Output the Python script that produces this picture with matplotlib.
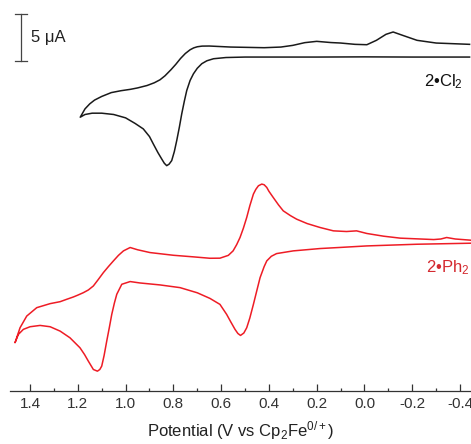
import matplotlib
matplotlib.use("Agg")
import matplotlib.pyplot as plt

plt.rcParams["font.family"] = ["Liberation Sans", "DejaVu Sans"]
plt.rcParams["mathtext.fontset"] = "custom"
plt.rcParams["mathtext.rm"] = "Liberation Sans"
plt.rcParams["mathtext.it"] = "Liberation Sans:italic"

# --- 2.Cl2 : potential (V vs Fc) and current (uA, relative to return baseline)
# scan starts at the right end, runs to 1.19 V and comes back
cl2_E = [-0.44, -0.30, -0.22, -0.16, -0.12, -0.09, -0.05, -0.01, 0.04, 0.10,
         0.14, 0.20, 0.25, 0.30, 0.35, 0.42, 0.50, 0.56, 0.65, 0.68,
         0.70, 0.715, 0.73, 0.75, 0.77, 0.79, 0.81, 0.835, 0.856, 0.88,
         0.91, 0.95, 0.98, 1.02, 1.06, 1.10, 1.13, 1.15, 1.17, 1.19,
         1.17, 1.14, 1.10, 1.05, 1.00, 0.96, 0.926, 0.90, 0.884, 0.865,
         0.849, 0.838, 0.828, 0.818, 0.807, 0.796, 0.786, 0.775, 0.765, 0.754,
         0.744, 0.73, 0.716, 0.70, 0.681, 0.66, 0.632, 0.58, 0.50, 0.20,
         0.00, -0.20, -0.44]
cl2_I = [1.36, 1.50, 1.79, 2.32, 2.68, 2.43, 1.79, 1.32, 1.36, 1.50,
         1.55, 1.68, 1.54, 1.25, 1.07, 1.00, 1.04, 1.07, 1.18, 1.17,
         1.10, 0.98, 0.78, 0.38, -0.15, -0.78, -1.35, -2.00, -2.43, -2.75,
         -3.04, -3.30, -3.45, -3.60, -3.80, -4.21, -4.60, -5.00, -5.54, -6.43,
         -6.14, -6.00, -6.00, -6.14, -6.50, -7.10, -7.68, -8.50, -9.29, -10.20,
         -10.89, -11.35, -11.61, -11.45, -11.07, -10.10, -8.93, -7.50, -6.07, -4.70,
         -3.57, -2.50, -1.79, -1.20, -0.71, -0.40, -0.18, -0.05, 0.00, 0.00,
         0.02, 0.00, 0.00]

# --- 2.Ph2
ph2_E = [-0.446, -0.38, -0.344, -0.32, -0.29, -0.15, -0.08, -0.01, 0.033, 0.075,
         0.13, 0.186, 0.24, 0.284, 0.31, 0.34, 0.36, 0.382, 0.40, 0.409,
         0.42, 0.43, 0.444, 0.455, 0.465, 0.48, 0.493, 0.507, 0.521, 0.535,
         0.55, 0.57, 0.605, 0.647, 0.716, 0.80, 0.898, 0.95, 0.981, 1.009,
         1.03, 1.051, 1.072, 1.093, 1.115, 1.135, 1.156, 1.177, 1.20, 1.219,
         1.247, 1.274, 1.316, 1.372, 1.414, 1.442, 1.463,
         1.449, 1.428, 1.40, 1.358, 1.316, 1.274, 1.233, 1.191, 1.172, 1.156,
         1.135, 1.118, 1.108, 1.10, 1.09, 1.079, 1.068, 1.058, 1.047, 1.037,
         1.016, 0.981, 0.94, 0.856, 0.772, 0.70, 0.647, 0.605, 0.577, 0.56,
         0.542, 0.53, 0.519, 0.505, 0.493, 0.48, 0.465, 0.45, 0.437, 0.42,
         0.409, 0.39, 0.368, 0.298, 0.186, 0.10, -0.01, -0.22, -0.446]
ph2_I = [0.32, 0.45, 0.61, 0.45, 0.39, 0.54, 0.75, 1.04, 1.32, 1.25,
         1.32, 1.68, 2.10, 2.57, 2.95, 3.46, 4.10, 4.89, 5.55, 5.96,
         6.25, 6.32, 6.14, 5.75, 5.25, 4.00, 2.75, 1.60, 0.61, -0.15,
         -0.82, -1.30, -1.60, -1.61, -1.46, -1.29, -1.00, -0.70, -0.46, -0.82,
         -1.30, -1.89, -2.50, -3.14, -3.90, -4.57, -5.00, -5.29, -5.55, -5.75,
         -6.00, -6.25, -6.46, -6.89, -7.79, -9.04, -10.64,
         -9.75, -9.21, -8.93, -8.79, -8.93, -9.40, -10.11, -11.18, -11.90, -12.61,
         -13.50, -13.68, -13.50, -13.14, -12.00, -10.46, -9.00, -7.61, -6.40, -5.46,
         -4.39, -4.10, -4.25, -4.46, -4.75, -5.30, -5.90, -6.54, -7.61, -8.40,
         -9.21, -9.65, -9.86, -9.60, -9.04, -8.00, -6.54, -5.00, -3.68, -2.50,
         -1.89, -1.40, -1.11, -0.82, -0.57, -0.45, -0.29, -0.11, 0.00]

CL2_OFFSET = 35.7   # uA, vertical stacking
PH2_OFFSET = 15.8
RED = "#ee1c25"

fig = plt.figure(figsize=(4.71, 4.44), dpi=100)
ax = fig.add_axes([10 / 471, 53 / 444, 461 / 471, 391 / 444])

ax.plot(cl2_E, [i + CL2_OFFSET for i in cl2_I], color="#1a1a1a", lw=1.1,
        solid_joinstyle="round")
ax.plot(ph2_E, [i + PH2_OFFSET for i in ph2_I], color=RED, lw=1.1,
        solid_joinstyle="round")

# 5 uA scale bar
ax.plot([1.438, 1.438], [35.25, 40.25], color="#444444", lw=0.9)
ax.plot([1.413, 1.463], [35.25, 35.25], color="#444444", lw=0.9)
ax.plot([1.413, 1.463], [40.25, 40.25], color="#444444", lw=0.9)
ax.text(1.396, 37.75, "5 μA", fontsize=12, va="center", ha="left", color="#222222")

ax.text(-0.413, 33.1, "2•Cl$_2$", fontsize=12, ha="right", va="center",
        color="#111111")
ax.text(-0.44, 13.2, "2•Ph$_2$", fontsize=12, ha="right", va="center",
        color="#d42a30")

ax.set_xlim(1.484, -0.446)
ax.set_ylim(0, 41.8)
ax.set_xticks([1.4, 1.2, 1.0, 0.8, 0.6, 0.4, 0.2, 0.0, -0.2, -0.4])
ax.set_xticklabels(["1.4", "1.2", "1.0", "0.8", "0.6", "0.4", "0.2", "0.0",
                    "-0.2", "-0.4"])
ax.set_xticks([1.3, 1.1, 0.9, 0.7, 0.5, 0.3, 0.1, -0.1, -0.3], minor=True)
ax.tick_params(axis="x", which="major", direction="in", length=5, width=0.9,
               labelsize=11, colors="#333333", pad=4)
ax.tick_params(axis="x", which="minor", direction="in", length=2.5, width=0.9,
               colors="#333333")
ax.set_yticks([])
for s in ("left", "right", "top"):
    ax.spines[s].set_visible(False)
ax.spines["bottom"].set_color("#333333")
ax.spines["bottom"].set_linewidth(0.9)
ax.set_xlabel("Potential (V vs Cp$_2$Fe$^{0/+}$)", fontsize=12, color="#222222",
              labelpad=6)

fig.savefig("out.png", dpi=100)
